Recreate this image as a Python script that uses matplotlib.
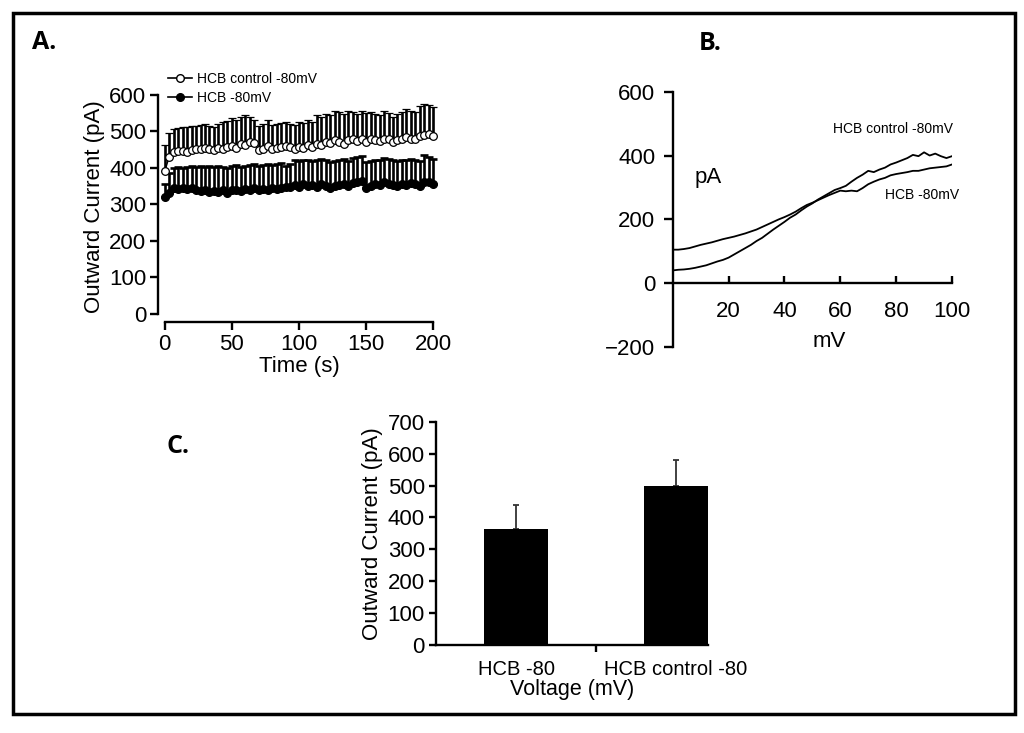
import numpy as np
import matplotlib.pyplot as plt
from matplotlib.lines import Line2D
from matplotlib.patches import Rectangle

plt.rcParams['font.family'] = ['Liberation Sans', 'DejaVu Sans']

# ---- panel A: outward current vs time ----
time_s = np.linspace(0, 200, 61)

ctrl_mean = [390, 430, 442, 445, 445, 443, 448, 452, 450, 455,
             450, 448, 455, 452, 458, 460, 455, 465, 462, 470,
             468, 448, 452, 460, 450, 455, 458, 460, 456, 452,
             458, 455, 462, 458, 466, 462, 470, 468, 476, 470,
             465, 475, 478, 472, 480, 470, 478, 476, 472, 480,
             478, 470, 476, 478, 484, 480, 478, 488, 490, 492, 488]
ctrl_upper = [462, 495, 505, 510, 512, 512, 515, 515, 518, 520,
              515, 512, 520, 525, 528, 535, 530, 540, 545, 540,
              530, 515, 520, 530, 518, 520, 522, 525, 520, 518,
              525, 522, 530, 525, 545, 540, 548, 545, 555, 552,
              548, 555, 552, 548, 555, 550, 552, 548, 545, 555,
              550, 540, 548, 552, 560, 555, 552, 570, 575, 572, 565]

hcb_mean = [320, 330, 345, 343, 345, 342, 344, 338, 336, 338,
            335, 337, 334, 338, 332, 338, 340, 336, 342, 340,
            344, 338, 342, 340, 345, 342, 344, 348, 346, 352,
            348, 355, 350, 353, 348, 356, 350, 345, 350, 352,
            355, 350, 358, 362, 365, 345, 350, 355, 352, 360,
            356, 352, 350, 355, 352, 358, 356, 350, 362, 360, 355]
hcb_upper = [355, 385, 400, 402, 400, 402, 405, 403, 405, 402,
             405, 403, 405, 402, 400, 405, 408, 403, 405, 408,
             410, 405, 408, 410, 408, 410, 412, 405, 410, 420,
             418, 422, 420, 418, 420, 425, 420, 415, 418, 420,
             425, 418, 428, 430, 432, 415, 418, 420, 422, 428,
             425, 420, 418, 422, 420, 425, 420, 418, 435, 430, 425]

# ---- panel B: I-V traces ----
mv = np.arange(0, 101, 2)
iv_ctrl = [40, 42, 43, 45, 48, 52, 56, 62, 68, 73,
           80, 90, 100, 110, 120, 132, 142, 155, 168, 180,
           192, 205, 215, 228, 240, 250, 262, 272, 282, 292,
           298, 305, 318, 330, 340, 352, 348, 356, 362, 372,
           378, 385, 392, 402, 398, 410, 400, 406, 398, 392, 398]
iv_hcb = [105, 105, 107, 110, 115, 120, 124, 128, 133, 138,
          142, 146, 151, 156, 162, 168, 176, 184, 192, 200,
          207, 215, 224, 235, 245, 252, 260, 268, 276, 283,
          290, 288, 290, 288, 298, 310, 318, 325, 330, 338,
          342, 345, 348, 352, 352, 356, 360, 362, 364, 366, 372]

# ---- panel C: bars ----
bar_labels = ['HCB -80', 'HCB control -80']
bar_vals = [365, 497]
bar_errs = [75, 82]

W, H = 1024, 733
fig = plt.figure(figsize=(W / 100, H / 100), dpi=100)


def px_axes(l, t, r, b):
    return fig.add_axes([l / W, 1 - b / H, (r - l) / W, (b - t) / H])


# panel A
axA = px_axes(158, 91, 440, 322)
ctrl_mean = np.array(ctrl_mean)
hcb_mean = np.array(hcb_mean)
axA.errorbar(time_s, ctrl_mean, yerr=[np.zeros(61), np.array(ctrl_upper) - ctrl_mean],
             fmt='-o', color='k', lw=1, ms=5.5, mfc='white', mec='k', mew=0.9,
             elinewidth=1.9, capsize=3, capthick=1.9, zorder=3)
axA.errorbar(time_s, hcb_mean, yerr=[np.zeros(61), np.array(hcb_upper) - hcb_mean],
             fmt='-o', color='k', lw=1, ms=5.5, mfc='k', mec='k',
             elinewidth=1.9, capsize=3, capthick=1.9, zorder=2)
axA.set_xlim(-5, 205)
axA.set_ylim(-22, 610)
axA.set_xticks([0, 50, 100, 150, 200])
axA.set_yticks(range(0, 601, 100))
for s in ['top', 'right']:
    axA.spines[s].set_visible(False)
axA.spines['left'].set_bounds(0, 600)
axA.spines['bottom'].set_bounds(0, 200)
for s in ['left', 'bottom']:
    axA.spines[s].set_linewidth(1.7)
axA.tick_params(direction='out', length=5.5, width=1.7, labelsize=16, pad=3)
axA.set_xlabel('Time (s)', fontsize=16, labelpad=1)
axA.set_ylabel('Outward Current (pA)', fontsize=16, labelpad=3)
handles = [Line2D([], [], color='k', marker='o', mfc='white', mec='k', ms=5.5, lw=1.2),
           Line2D([], [], color='k', marker='o', mfc='k', mec='k', ms=5.5, lw=1.2)]
fig.legend(handles, ['HCB control -80mV', 'HCB -80mV'], loc='upper left',
           bbox_to_anchor=(168 / W, 1 - 72 / H), bbox_transform=fig.transFigure,
           frameon=False, fontsize=10, handlelength=1.7, handletextpad=0.4,
           labelspacing=0.35, borderpad=0, borderaxespad=0)

# panel B
axB = px_axes(672.7, 91.7, 952, 347)
axB.plot(mv, iv_ctrl, color='k', lw=1.3)
axB.plot(mv, iv_hcb, color='k', lw=1.3)
axB.set_xlim(0, 100)
axB.set_ylim(-200, 600)
for s in ['top', 'right']:
    axB.spines[s].set_visible(False)
axB.spines['bottom'].set_position(('data', 0))
for s in ['left', 'bottom']:
    axB.spines[s].set_linewidth(1.7)
axB.set_xticks([20, 40, 60, 80, 100])
axB.set_yticks([-200, 0, 200, 400, 600])
axB.tick_params(axis='x', direction='in', length=5, width=1.7, labelsize=16, pad=13)
axB.tick_params(axis='y', direction='out', length=6.5, width=1.7, labelsize=16, pad=6)
axB.text(12.7, 330, 'pA', fontsize=16, ha='center', va='center')
axB.text(56, -182, 'mV', fontsize=16, ha='center', va='center')
axB.text(57.4, 483, 'HCB control -80mV', fontsize=10, ha='left', va='center')
axB.text(76, 276, 'HCB -80mV', fontsize=10, ha='left', va='center')

# panel C
axC = px_axes(436, 421.7, 708, 645)
xpos = [1, 2]
axC.bar(xpos, bar_vals, width=0.4, color='k', zorder=2)
axC.errorbar(xpos, bar_vals, yerr=[[0, 0], bar_errs], fmt='none', ecolor='#333333',
             elinewidth=1.3, capsize=2.5, capthick=1.3, zorder=1)
axC.set_xlim(0.5, 2.2)
axC.set_ylim(0, 700)
for s in ['top', 'right']:
    axC.spines[s].set_visible(False)
for s in ['left', 'bottom']:
    axC.spines[s].set_linewidth(1.7)
axC.set_yticks(range(0, 701, 100))
axC.set_xticks([1.5])
axC.set_xticklabels([''])
axC.set_xticks(xpos, minor=True)
axC.set_xticklabels(bar_labels, minor=True)
axC.tick_params(axis='y', direction='out', length=5, width=1.7, labelsize=16, pad=3)
axC.tick_params(axis='x', which='major', direction='out', length=5, width=1.7)
axC.tick_params(axis='x', which='minor', length=0, labelsize=14.5, pad=11)
axC.set_xlabel('Voltage (mV)', fontsize=15.5, labelpad=0)
axC.set_ylabel('Outward Current (pA)', fontsize=16, labelpad=3)

# panel letters and frame
for lbl, x, y in [('A.', 32, 49), ('B.', 699, 50), ('C.', 166, 453)]:
    fig.text(x / W, 1 - y / H, lbl, fontsize=18, fontweight='bold',
             family=['Open Sans', 'DejaVu Sans'], ha='left', va='baseline')
fig.patches.append(Rectangle((13 / W, 1 - 714 / H), (1015 - 13) / W, (714 - 13) / H,
                             fill=False, lw=2.5, ec='k', transform=fig.transFigure))

fig.savefig('out.png', dpi=100)
